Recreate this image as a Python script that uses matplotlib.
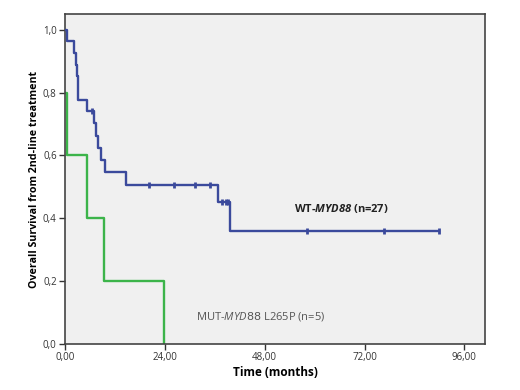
import matplotlib
matplotlib.use("Agg")
from matplotlib import pyplot as plt
import numpy as np

# step curves (months, survival)
wt_times = [0, 0.5, 2.2, 2.6, 2.9, 3.1, 5.3, 7.0, 7.5, 7.9, 8.7, 9.6, 14.7, 36.8, 39.7, 90.0]
wt_surv = [1.0, 0.963, 0.926, 0.889, 0.852, 0.778, 0.741, 0.702, 0.663, 0.624, 0.585, 0.546, 0.507, 0.451, 0.361, 0.361]
wt_censored = [6.5, 20.2, 26.2, 31.3, 34.9, 37.8, 38.7, 39.2, 58.2, 76.8, 90.0]

mut_times = [0, 0.6, 5.3, 9.4, 23.8]
mut_surv = [0.8, 0.6, 0.4, 0.2, 0.0]

x_ticks = [0, 24, 48, 72, 96]
y_ticks = [0.0, 0.2, 0.4, 0.6, 0.8, 1.0]

blue = "#3b4a9c"
green = "#3cb44a"

plt.rcParams['font.family'] = ['Open Sans', 'DejaVu Sans']
plt.rcParams['mathtext.fontset'] = 'custom'
plt.rcParams['mathtext.it'] = 'Open Sans:italic'
plt.rcParams['mathtext.bfit'] = 'Open Sans:italic:bold'


def surv_at(t, times, surv):
    # value of the step curve at time t
    idx = np.searchsorted(times, t, side='right') - 1
    return surv[idx]


fig = plt.figure(figsize=(5.2, 3.9), dpi=100)
ax = fig.add_axes([0.125, 0.118, 0.808, 0.846])
ax.set_facecolor("#f0f0f0")

ax.step(mut_times, mut_surv, where='post', color=green, lw=1.7, zorder=2)
ax.step(wt_times, wt_surv, where='post', color=blue, lw=1.7, zorder=3)
cy = [surv_at(t, wt_times, wt_surv) for t in wt_censored]
ax.plot(wt_censored, cy, ls='none', marker='|', ms=5, mew=2, color=blue, zorder=4)

ax.set_xlim(0, 101)
ax.set_ylim(0, 1.05)
ax.set_xticks(x_ticks)
ax.set_xticklabels([("%.2f" % v).replace('.', ',') for v in x_ticks])
ax.set_yticks(y_ticks)
ax.set_yticklabels([("%.1f" % v).replace('.', ',') for v in y_ticks])
ax.tick_params(labelsize=7, colors="#333333", length=4, width=1, pad=2)

for s in ax.spines.values():
    s.set_color("#444444")
    s.set_linewidth(1.2)

ax.set_xlabel("Time (months)", fontsize=8.5, fontweight='bold', labelpad=2)
ax.set_ylabel("Overall Survival from 2nd-line treatment", fontsize=7.7, fontweight='bold', labelpad=2)

ax.text(55, 0.43, r"WT-$\mathbfit{MYD88}$ (n=27)", fontsize=8, fontweight='bold', color="#222222", va='center')
ax.text(31.5, 0.086, r"MUT-$\mathit{MYD88}$ L265P (n=5)", fontsize=8, color="#555555", va='center')

fig.savefig("out.png", dpi=100)
